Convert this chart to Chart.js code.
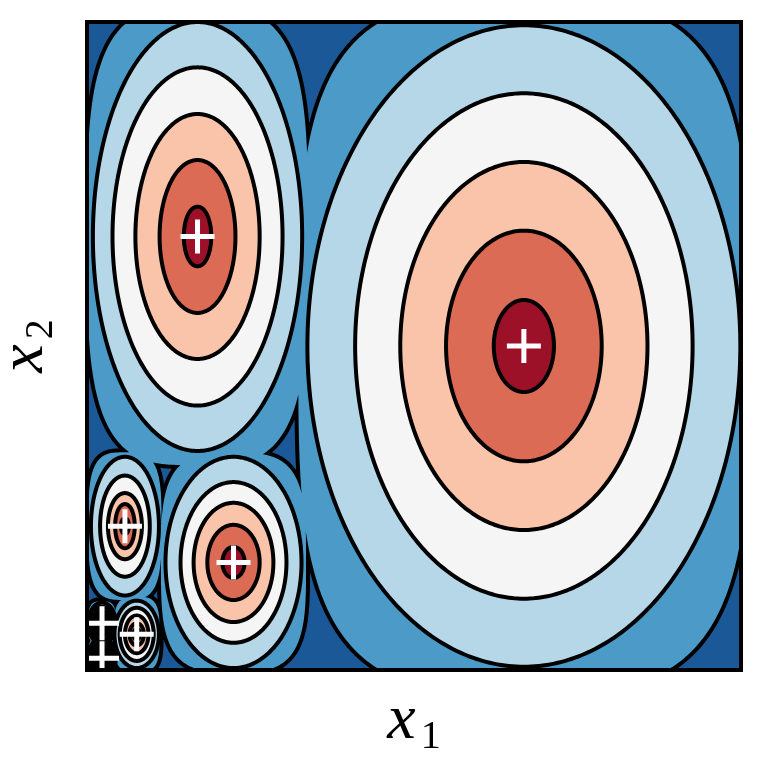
<!DOCTYPE html>
<html>
<head>
<meta charset="utf-8">
<script src="https://cdn.jsdelivr.net/npm/chart.js@4.4.0/dist/chart.umd.min.js"></script>
<style>
  html, body { margin: 0; padding: 0; background: #fff; }
  #wrap { width: 763px; height: 773px; }
</style>
</head>
<body>
<div id="wrap"><canvas id="contourChart" width="763" height="773"></canvas></div>
<script>
// peak centres on the unit square (x1, x2)
var peakX = [0.668, 0.169, 0.224, 0.058, 0.076, 0.023, 0.023];
var peakY = [0.500, 0.669, 0.166, 0.222, 0.055, 0.072, 0.018];

// half width / half height of every contour level per peak, outermost level first
var semiX = [
  [0.348, 0.172, 0.114, 0.059, 0.038, 0.024, 0.024],
  [0.331, 0.160, 0.104, 0.052, 0.034, 0.021, 0.021],
  [0.258, 0.130, 0.081, 0.038, 0.026, 0.017, 0.017],
  [0.189, 0.095, 0.061, 0.026, 0.018, 0.012, 0.012],
  [0.119, 0.058, 0.040, 0.015, 0.011, 0.008, 0.008],
  [0.046, 0.021, 0.017, 0.006, 0.005, 0.003, 0.003]
];
var semiY = [
  [0.537, 0.356, 0.172, 0.117, 0.061, 0.037, 0.037],
  [0.495, 0.331, 0.163, 0.107, 0.052, 0.032, 0.032],
  [0.390, 0.261, 0.124, 0.078, 0.041, 0.026, 0.026],
  [0.284, 0.189, 0.092, 0.051, 0.029, 0.020, 0.020],
  [0.178, 0.118, 0.058, 0.034, 0.017, 0.014, 0.014],
  [0.071, 0.046, 0.024, 0.012, 0.008, 0.008, 0.008]
];
// superellipse exponent per level: outer level is boxy, the rest are ellipses
var levelShape = [3.5, 2, 2, 2, 2, 2];
// background first, then one colour per level (RdBu_r)
var levelColors = ['#1b5898', '#4b9ac7', '#b6d7e8', '#f5f5f5', '#f9c4aa', '#dc6b55', '#9c1127'];

var axisNames = ['x', 'x'];
var axisSubs = ['1', '2'];

var lineW = 4;

function shapePath(ctx, xs, ys, p, l) {
  var cx = xs.getPixelForValue(peakX[p]);
  var cy = ys.getPixelForValue(peakY[p]);
  // pull in by half a line so the outline sits centred on the level
  var rx = Math.max(0.5, xs.getPixelForValue(peakX[p] + semiX[l][p]) - cx - lineW / 2);
  var ry = Math.max(0.5, cy - ys.getPixelForValue(peakY[p] + semiY[l][p]) - lineW / 2);
  var e = 2 / levelShape[l];
  for (var i = 0; i <= 360; i++) {
    var t = i / 360 * 2 * Math.PI;
    var c = Math.cos(t), s = Math.sin(t);
    var px = cx + rx * Math.sign(c) * Math.pow(Math.abs(c), e);
    var py = cy + ry * Math.sign(s) * Math.pow(Math.abs(s), e);
    if (i === 0) ctx.moveTo(px, py); else ctx.lineTo(px, py);
  }
  ctx.closePath();
}

var contourFill = {
  id: 'contourFill',
  beforeDatasetsDraw: function(chart) {
    var ctx = chart.ctx, a = chart.chartArea;
    var xs = chart.scales.x, ys = chart.scales.y;
    ctx.save();
    ctx.beginPath();
    ctx.rect(a.left, a.top, a.right - a.left, a.bottom - a.top);
    ctx.clip();
    ctx.fillStyle = levelColors[0];
    ctx.fillRect(a.left, a.top, a.right - a.left, a.bottom - a.top);
    for (var l = 0; l < semiX.length; l++) {
      // outline first, the fill then hides the inner half and any overlap
      ctx.beginPath();
      for (var p = 0; p < peakX.length; p++) shapePath(ctx, xs, ys, p, l);
      ctx.lineWidth = lineW * 2;
      ctx.strokeStyle = '#000';
      ctx.lineJoin = 'round';
      ctx.stroke();
      ctx.fillStyle = levelColors[l + 1];
      ctx.fill();
    }
    ctx.restore();
  },
  afterDraw: function(chart) {
    var ctx = chart.ctx, a = chart.chartArea;
    ctx.save();
    ctx.lineWidth = 4;
    ctx.strokeStyle = '#000';
    ctx.strokeRect(a.left, a.top, a.right - a.left, a.bottom - a.top);
    ctx.fillStyle = '#000';
    drawLabel(ctx, axisNames[0], axisSubs[0], (a.left + a.right) / 2, 738, 0);
    drawLabel(ctx, axisNames[1], axisSubs[1], 42, (a.top + a.bottom) / 2, -Math.PI / 2);
    ctx.restore();
  }
};

function drawLabel(ctx, main, sub, x, y, angle) {
  var mainFont = 'italic 64px "Liberation Serif", "DejaVu Serif", serif';
  var subFont = '40px "Liberation Serif", "DejaVu Serif", serif';
  ctx.save();
  ctx.translate(x, y);
  ctx.rotate(angle);
  ctx.textBaseline = 'alphabetic';
  ctx.font = mainFont;
  var w1 = ctx.measureText(main).width;
  ctx.font = subFont;
  var w2 = ctx.measureText(sub).width;
  var start = -(w1 + 5 + w2) / 2;
  ctx.font = mainFont;
  ctx.fillText(main, start, 0);
  ctx.font = subFont;
  ctx.fillText(sub, start + w1 + 5, 10);
  ctx.restore();
}

var ctx = document.getElementById('contourChart');
var contourChart = new Chart(ctx, {
  type: 'scatter',
  data: {
    datasets: [{
      label: 'peaks',
      data: peakX.map(function(v, i) { return { x: v, y: peakY[i] }; }),
      pointStyle: 'cross',
      pointRadius: 17,
      pointHoverRadius: 17,
      pointBorderWidth: 5,
      pointBorderColor: '#fff',
      pointBackgroundColor: '#fff'
    }]
  },
  options: {
    responsive: false,
    animation: false,
    events: [],
    layout: { padding: { left: 87, right: 20, top: 18, bottom: 103 } },
    plugins: { legend: { display: false }, tooltip: { enabled: false } },
    scales: {
      x: { type: 'linear', min: 0, max: 1, display: false },
      y: { type: 'linear', min: 0, max: 1, display: false }
    }
  },
  plugins: [contourFill]
});
</script>
</body>
</html>
